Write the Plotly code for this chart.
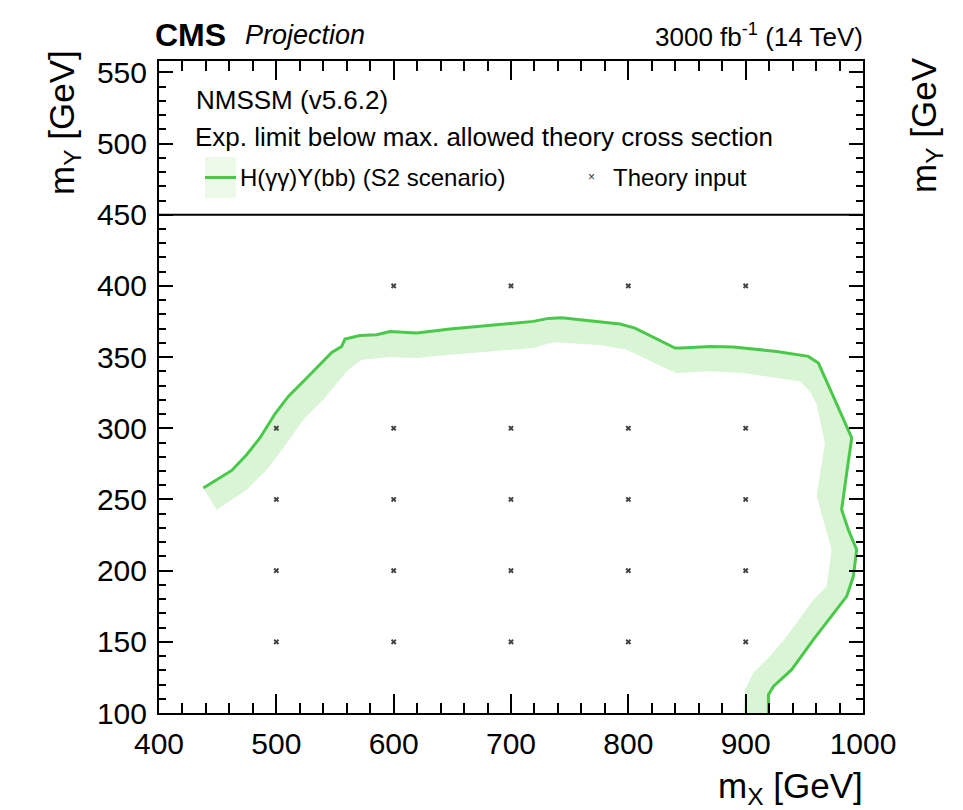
import plotly.graph_objects as go

# ---------------- data ----------------
# expected limit contour (central line), (m_X, m_Y) in GeV
line_mx = [437.8, 462.0, 474.7, 486.0, 498.9, 510.2, 525.9, 547.2, 555.7, 558.5,
           571.3, 585.5, 596.9, 619.6, 648.0, 676.4, 704.8, 719.0, 731.8, 743.1,
           775.9, 792.9, 805.7, 839.8, 845.5, 869.6, 889.5, 926.4, 953.4, 962.0,
           974.7, 983.3, 990.4, 986.1, 981.8, 987.5, 994.6, 991.8, 986.1, 957.7,
           939.2, 923.6, 919.4, 919.4]
line_my = [258.0, 270.4, 281.4, 293.2, 310.2, 322.4, 335.3, 353.3, 357.5, 362.7,
           365.2, 365.7, 367.9, 366.9, 369.7, 371.6, 374.0, 375.1, 377.2, 377.7,
           375.1, 373.3, 370.4, 356.4, 356.4, 357.5, 357.1, 354.0, 350.5, 345.8,
           322.4, 306.0, 293.2, 268.6, 242.8, 228.8, 214.7, 196.0, 181.9, 151.5,
           130.4, 118.7, 112.9, 100.0]
# inner edge of the uncertainty band
band_mx = [449.2, 474.7, 491.8, 506.0, 523.0, 540.0, 560.0, 572.7, 596.9, 619.6,
           648.0, 676.4, 719.0, 736.0, 775.9, 798.6, 831.3, 841.2, 869.6, 898.0,
           946.3, 954.9, 960.5, 967.6, 960.5, 973.3, 969.0, 957.7, 934.9, 920.7,
           906.5, 899.4, 898.0]
band_my = [242.8, 256.9, 270.9, 286.1, 306.0, 320.0, 340.0, 348.2, 350.0, 349.4,
           351.7, 353.6, 356.4, 360.5, 358.5, 355.2, 342.3, 338.8, 340.0, 338.8,
           333.0, 325.9, 316.6, 289.7, 252.2, 214.7, 188.9, 179.6, 153.8, 139.8,
           128.1, 116.4, 100.0]
# theory input grid points
theory_mx = [600, 700, 800, 900,
             500, 600, 700, 800, 900,
             500, 600, 700, 800, 900,
             500, 600, 700, 800, 900,
             500, 600, 700, 800, 900]
theory_my = [400, 400, 400, 400,
             300, 300, 300, 300, 300,
             250, 250, 250, 250, 250,
             200, 200, 200, 200, 200,
             150, 150, 150, 150, 150]
x_ticks = [400, 500, 600, 700, 800, 900, 1000]
y_ticks = [100, 150, 200, 250, 300, 350, 400, 450, 500, 550]
x_range = [400, 1000]
y_range = [100, 558]
legend_divider_y = 450

# ---------------- styling ----------------
LINE_COL = "rgb(74,200,74)"
BAND_COL = "rgb(218,244,214)"
LEG_BOX_COL = "rgb(236,249,233)"
FONT = "Liberation Sans, Arial, Helvetica, sans-serif"

W, H = 963, 810
L, R, T, B = 159, 100, 61, 97
PW, PH = W - L - R, H - T - B


def px(xp):
    return (xp - L) / PW


def py(yp):
    return (H - B - yp) / PH


fig = go.Figure()

# band polygon: central line forward + inner edge reversed
fig.add_trace(go.Scatter(
    x=line_mx + band_mx[::-1], y=line_my + band_my[::-1],
    fill="toself", fillcolor=BAND_COL, mode="none", hoverinfo="skip",
    showlegend=False))
fig.add_trace(go.Scatter(
    x=line_mx, y=line_my, mode="lines",
    line=dict(color=LINE_COL, width=3), showlegend=False))
fig.add_trace(go.Scatter(
    x=theory_mx, y=theory_my, mode="markers",
    marker=dict(symbol="x", size=5, color="#444", line=dict(width=0)),
    showlegend=False))

axis_common = dict(
    showgrid=False, zeroline=False, showline=True, linecolor="black",
    linewidth=2, mirror="allticks", ticks="inside", tickcolor="black",
    tickwidth=2, tickfont=dict(family=FONT, size=30, color="black"))

fig.update_xaxes(range=x_range, tickvals=x_ticks, ticklen=19,
                 ticklabelstandoff=3,
                 minor=dict(dtick=20, tick0=400, ticklen=10, tickwidth=1.5,
                            ticks="inside", tickcolor="black"),
                 **axis_common)
fig.update_yaxes(range=y_range, tickvals=y_ticks, ticklen=14,
                 ticklabelstandoff=4,
                 minor=dict(dtick=10, tick0=100, ticklen=7, tickwidth=1.5,
                            ticks="inside", tickcolor="black"),
                 **axis_common)

shapes = [
    dict(type="line", xref="paper", yref="y", x0=0, x1=1,
         y0=legend_divider_y, y1=legend_divider_y,
         line=dict(color="black", width=2)),
    dict(type="rect", xref="paper", yref="paper",
         x0=px(205), x1=px(236), y0=py(198), y1=py(157),
         fillcolor=LEG_BOX_COL, line=dict(width=0)),
    dict(type="line", xref="paper", yref="paper",
         x0=px(205), x1=px(236), y0=py(177.5), y1=py(177.5),
         line=dict(color=LINE_COL, width=3)),
]

ann = []


def text(s, x, y, size, xanchor="left", yanchor="middle", angle=0, color="black"):
    ann.append(dict(text=s, xref="paper", yref="paper", x=px(x), y=py(y),
                    xanchor=xanchor, yanchor=yanchor, showarrow=False,
                    textangle=angle,
                    font=dict(family=FONT, size=size, color=color)))


text("<b>CMS</b>", 153, 35, 32)
text("<i>Projection</i>", 243, 35, 27)
text("3000 fb<sup>-1</sup> (14 TeV)", 865, 35, 26, xanchor="right")
text("NMSSM (v5.6.2)", 194, 100, 26)
text("Exp. limit below max. allowed theory cross section", 193, 137, 26)
text("H(γγ)Y(bb) (S2 scenario)", 238, 178, 24)
text("×", 591.5, 177, 12, xanchor="center", color="#333")
text("Theory input", 611, 178, 24)
text("m<sub>X</sub> [GeV]", 865, 788, 35, xanchor="right")
text("m<sub>Y</sub> [GeV]", 64, 123, 35, xanchor="center", angle=-90)
text("m<sub>Y</sub> [GeV", 926, 125, 35, xanchor="center", angle=-90)

fig.update_layout(
    width=W, height=H,
    margin=dict(l=L, r=R, t=T, b=B),
    plot_bgcolor="white", paper_bgcolor="white",
    shapes=shapes, annotations=ann, showlegend=False,
    font=dict(family=FONT))

fig.write_html("out.html")
